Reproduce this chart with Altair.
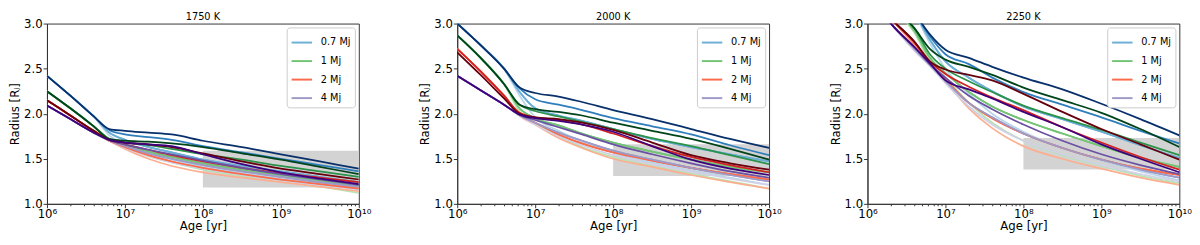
import altair as alt
import pandas as pd

# ---------------- data ----------------
LOG_AGE = [6.0, 6.3, 6.6, 6.8, 7.0, 7.3, 7.6, 8.0, 8.5, 9.0, 9.5, 10.0]
TEMPS = ["1750 K", "2000 K", "2250 K"]
MASSES = ["0.7 Mj", "1 Mj", "2 Mj", "4 Mj"]

# shades per mass, lightest -> darkest
SHADES = {
    "0.7 Mj": ["#b9d6ec", "#6baed6", "#2f7ebc", "#08306b"],
    "1 Mj": ["#b7e2b1", "#74c476", "#2a924a", "#00441b"],
    "2 Mj": ["#fcae91", "#fb6a4a", "#d42020", "#67000d"],
    "4 Mj": ["#d0d1e6", "#9e9ac8", "#6a51a3", "#3f007d"],
}
LEGEND_COLORS = ["#6baed6", "#74c476", "#fb6a4a", "#9e9ac8"]

# radius [R_J] at LOG_AGE, rows lightest -> darkest
R1750_M07 = [
    [2.42, 2.20, 1.97, 1.76, 1.66, 1.56, 1.49, 1.41, 1.34, 1.28, 1.22, 1.16],
    [2.42, 2.20, 1.97, 1.79, 1.71, 1.63, 1.57, 1.49, 1.42, 1.36, 1.30, 1.24],
    [2.42, 2.20, 1.97, 1.82, 1.77, 1.74, 1.71, 1.64, 1.57, 1.50, 1.43, 1.36],
    [2.42, 2.20, 1.97, 1.83, 1.81, 1.79, 1.77, 1.70, 1.63, 1.55, 1.47, 1.39],
]
R1750_M1 = [
    [2.25, 2.06, 1.86, 1.71, 1.63, 1.53, 1.46, 1.38, 1.31, 1.25, 1.19, 1.12],
    [2.25, 2.06, 1.86, 1.72, 1.65, 1.58, 1.52, 1.45, 1.38, 1.32, 1.26, 1.20],
    [2.25, 2.06, 1.86, 1.72, 1.68, 1.65, 1.61, 1.55, 1.49, 1.42, 1.36, 1.30],
    [2.25, 2.06, 1.86, 1.72, 1.70, 1.69, 1.67, 1.63, 1.56, 1.49, 1.41, 1.33],
]
R1750_M2 = [
    [2.15, 1.98, 1.81, 1.70, 1.61, 1.50, 1.42, 1.35, 1.29, 1.24, 1.19, 1.14],
    [2.15, 1.98, 1.81, 1.70, 1.63, 1.54, 1.47, 1.40, 1.33, 1.27, 1.22, 1.17],
    [2.15, 1.98, 1.81, 1.71, 1.66, 1.60, 1.54, 1.47, 1.40, 1.34, 1.29, 1.24],
    [2.15, 1.98, 1.81, 1.71, 1.68, 1.66, 1.63, 1.56, 1.47, 1.39, 1.33, 1.27],
]
R1750_M4 = [
    [2.09, 1.94, 1.79, 1.70, 1.62, 1.53, 1.46, 1.39, 1.32, 1.26, 1.21, 1.16],
    [2.09, 1.94, 1.79, 1.70, 1.64, 1.56, 1.50, 1.43, 1.36, 1.30, 1.24, 1.19],
    [2.09, 1.94, 1.79, 1.71, 1.66, 1.60, 1.55, 1.48, 1.40, 1.33, 1.27, 1.21],
    [2.09, 1.94, 1.79, 1.71, 1.68, 1.66, 1.64, 1.55, 1.44, 1.35, 1.28, 1.22],
]

R2000_M07 = [
    [3.00, 2.76, 2.50, 2.20, 1.96, 1.81, 1.69, 1.57, 1.46, 1.37, 1.29, 1.21],
    [3.00, 2.76, 2.50, 2.24, 2.06, 1.98, 1.92, 1.83, 1.72, 1.63, 1.55, 1.47],
    [3.00, 2.76, 2.50, 2.28, 2.16, 2.10, 2.04, 1.95, 1.86, 1.77, 1.65, 1.54],
    [3.00, 2.76, 2.50, 2.29, 2.23, 2.19, 2.13, 2.04, 1.94, 1.83, 1.72, 1.62],
]
R2000_M1 = [
    [2.87, 2.62, 2.33, 2.02, 1.90, 1.75, 1.63, 1.52, 1.42, 1.33, 1.25, 1.17],
    [2.87, 2.62, 2.33, 2.06, 1.95, 1.87, 1.78, 1.68, 1.58, 1.49, 1.41, 1.35],
    [2.87, 2.62, 2.33, 2.10, 2.03, 1.97, 1.91, 1.83, 1.73, 1.64, 1.54, 1.44],
    [2.87, 2.62, 2.33, 2.10, 2.05, 2.02, 1.98, 1.90, 1.81, 1.72, 1.61, 1.49],
]
R2000_M2 = [
    [2.72, 2.47, 2.20, 1.98, 1.88, 1.73, 1.62, 1.50, 1.41, 1.32, 1.24, 1.17],
    [2.72, 2.47, 2.20, 1.99, 1.90, 1.77, 1.67, 1.57, 1.48, 1.40, 1.33, 1.27],
    [2.72, 2.47, 2.20, 2.01, 1.96, 1.93, 1.88, 1.78, 1.64, 1.52, 1.43, 1.35],
    [2.68, 2.43, 2.17, 2.00, 1.96, 1.94, 1.90, 1.82, 1.68, 1.54, 1.45, 1.38],
]
R2000_M4 = [
    [2.42, 2.26, 2.10, 1.98, 1.88, 1.75, 1.65, 1.54, 1.44, 1.36, 1.28, 1.21],
    [2.42, 2.26, 2.10, 1.98, 1.90, 1.79, 1.70, 1.59, 1.49, 1.40, 1.32, 1.25],
    [2.42, 2.26, 2.10, 1.99, 1.93, 1.85, 1.77, 1.66, 1.55, 1.45, 1.36, 1.29],
    [2.42, 2.26, 2.10, 1.99, 1.95, 1.92, 1.88, 1.80, 1.64, 1.49, 1.39, 1.32],
]

R2250_M07 = [
    [3.90, 3.45, 3.12, 2.78, 2.50, 2.22, 2.00, 1.80, 1.62, 1.48, 1.36, 1.26],
    [3.90, 3.45, 3.12, 2.82, 2.58, 2.40, 2.25, 2.08, 1.94, 1.80, 1.65, 1.51],
    [3.90, 3.45, 3.12, 2.86, 2.66, 2.55, 2.40, 2.24, 2.10, 1.96, 1.81, 1.67],
    [3.90, 3.45, 3.12, 2.88, 2.71, 2.62, 2.52, 2.40, 2.27, 2.11, 1.94, 1.76],
]
R2250_M1 = [
    [3.55, 3.20, 2.90, 2.58, 2.40, 2.12, 1.90, 1.70, 1.54, 1.42, 1.31, 1.23],
    [3.55, 3.20, 2.92, 2.62, 2.45, 2.24, 2.08, 1.93, 1.78, 1.64, 1.51, 1.41],
    [3.55, 3.20, 2.95, 2.66, 2.50, 2.36, 2.24, 2.09, 1.95, 1.82, 1.68, 1.54],
    [3.55, 3.20, 2.95, 2.72, 2.60, 2.52, 2.43, 2.29, 2.15, 2.01, 1.83, 1.63],
]
R2250_M2 = [
    [3.30, 3.05, 2.76, 2.55, 2.36, 2.06, 1.84, 1.64, 1.50, 1.39, 1.29, 1.21],
    [3.30, 3.05, 2.78, 2.56, 2.38, 2.12, 1.95, 1.78, 1.62, 1.49, 1.39, 1.32],
    [3.30, 3.05, 2.80, 2.58, 2.44, 2.30, 2.18, 2.04, 1.85, 1.68, 1.52, 1.38],
    [3.30, 3.05, 2.80, 2.58, 2.49, 2.43, 2.37, 2.22, 2.02, 1.83, 1.66, 1.49],
]
R2250_M4 = [
    [3.35, 3.00, 2.70, 2.53, 2.34, 2.08, 1.88, 1.70, 1.55, 1.43, 1.33, 1.25],
    [3.35, 3.00, 2.72, 2.54, 2.36, 2.12, 1.96, 1.78, 1.62, 1.49, 1.38, 1.29],
    [3.35, 3.00, 2.74, 2.55, 2.40, 2.20, 2.05, 1.88, 1.70, 1.55, 1.43, 1.33],
    [3.35, 3.00, 2.74, 2.56, 2.37, 2.27, 2.17, 2.02, 1.85, 1.66, 1.50, 1.35],
]

PANEL_SERIES = {
    "1750 K": [R1750_M07, R1750_M1, R1750_M2, R1750_M4],
    "2000 K": [R2000_M07, R2000_M1, R2000_M2, R2000_M4],
    "2250 K": [R2250_M07, R2250_M1, R2250_M2, R2250_M4],
}

# shaded box: age range and radius range per panel
BOX_AGE = [1e8, 1e10]
BOX_RADIUS = {
    "1750 K": [1.18, 1.59],
    "2000 K": [1.31, 1.66],
    "2250 K": [1.38, 1.73],
}

MAJOR_TICKS = [1e6, 1e7, 1e8, 1e9, 1e10]
MINOR_TICKS = [m * 10 ** e for e in range(6, 10) for m in range(2, 10)]
Y_TICKS = [1.0, 1.5, 2.0, 2.5, 3.0]

FONT = "DejaVu Sans"
W, H = 320, 185

label_expr = (
    "datum.value == 1e6 ? '10\u2076' : datum.value == 1e7 ? '10\u2077' : "
    "datum.value == 1e8 ? '10\u2078' : datum.value == 1e9 ? '10\u2079' : "
    "datum.value == 1e10 ? '10\u00b9\u2070' : ''"
)
major_test = ("datum.value == 1e6 || datum.value == 1e7 || datum.value == 1e8 || "
              "datum.value == 1e9 || datum.value == 1e10")

x_scale = alt.Scale(type="log", domain=[1e6, 1e10], nice=False)
y_scale = alt.Scale(domain=[1.0, 3.0], nice=False, zero=False)

x_axis = alt.Axis(
    values=sorted(MAJOR_TICKS + MINOR_TICKS),
    labelExpr=label_expr,
    labelFlush=False,
    labelOverlap=False,
    grid=False,
    tickSize={"condition": {"test": major_test, "value": 4}, "value": 2},
    labelPadding=1,
    titlePadding=1,
    title="Age [yr]",
)
y_axis = alt.Axis(
    values=Y_TICKS,
    format=".1f",
    grid=False,
    tickSize=4,
    labelPadding=1,
    titlePadding=2,
    labelFlush=False,
    title="Radius [R\u2c7c]",
)


def panel(temp):
    rows = []
    series = PANEL_SERIES[temp]
    for shade in range(4):
        for mi, mass in enumerate(MASSES):
            vals = series[mi][shade]
            for la, r in zip(LOG_AGE, vals):
                rows.append({
                    "age": 10 ** la,
                    "radius": r,
                    "key": f"{shade}-{mi}",
                    "col": SHADES[mass][shade],
                    "mass": mass,
                    "shade": shade,
                })
    df = pd.DataFrame(rows)
    box = pd.DataFrame([{
        "a0": BOX_AGE[0], "a1": BOX_AGE[1],
        "r0": BOX_RADIUS[temp][0], "r1": BOX_RADIUS[temp][1],
    }])

    rect = alt.Chart(box).mark_rect(color="#d3d3d3", opacity=1).encode(
        x=alt.X("a0:Q", scale=x_scale, axis=x_axis, title="Age [yr]"),
        x2="a1:Q",
        y=alt.Y("r0:Q", scale=y_scale, axis=y_axis, title="Radius [R\u2c7c]"),
        y2="r1:Q",
    )

    legend_layer = alt.Chart(df[df["shade"] == 1]).mark_line(
        clip=True, strokeWidth=1.8, interpolate="monotone"
    ).encode(
        x=alt.X("age:Q", scale=x_scale, axis=x_axis, title="Age [yr]"),
        y=alt.Y("radius:Q", scale=y_scale, axis=y_axis, title="Radius [R\u2c7c]"),
        color=alt.Color(
            "mass:N",
            scale=alt.Scale(domain=MASSES, range=LEGEND_COLORS),
            legend=alt.Legend(
                title=None, orient="top-right", offset=4, padding=4,
                strokeColor="#cccccc", fillColor="white", cornerRadius=3,
                symbolType="stroke", symbolSize=440, symbolStrokeWidth=2,
                labelFontSize=10, labelFont=FONT, labelColor="black",
                rowPadding=2, labelOffset=8, symbolOpacity=1,
            ),
            sort=MASSES,
        ),
        detail="key:N",
    )

    lines = alt.Chart(df).mark_line(
        clip=True, strokeWidth=1.8, interpolate="monotone"
    ).encode(
        x=alt.X("age:Q", scale=x_scale, axis=x_axis, title="Age [yr]"),
        y=alt.Y("radius:Q", scale=y_scale, axis=y_axis, title="Radius [R\u2c7c]"),
        stroke=alt.Stroke("col:N", scale=None),
        detail="key:N",
    )

    return alt.layer(rect, legend_layer, lines).properties(
        width=W, height=H,
        title=alt.TitleParams(temp, fontSize=10, fontWeight="normal", font=FONT,
                              color="black", offset=-4),
    )


chart = alt.hconcat(*[panel(t) for t in TEMPS], spacing=48).resolve_scale(
    color="independent"
).resolve_legend(color="independent").properties(
    padding=0
).configure_view(
    stroke="#333333", strokeWidth=1
).configure_axis(
    labelFont=FONT, titleFont=FONT, labelFontSize=12, titleFontSize=12,
    titleFontWeight="normal", labelColor="black", titleColor="black",
    domainColor="#333333", tickColor="#333333",
)

chart.save("out.html", embed_options={"renderer": "svg", "actions": False})
